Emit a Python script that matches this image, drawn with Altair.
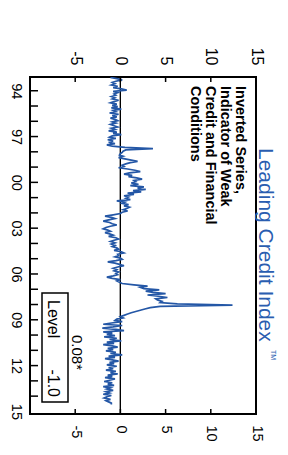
import altair as alt
import pandas as pd

# ---- data: monthly values (inverted index) ----
v1993 = [-1.1, -0.4, 0.2, -0.5, -0.9, -0.6, -1.0, -0.3, -0.8, 0.1, 0.7]  # Feb-Dec
v1994 = [-0.8, -0.3, -0.7, -0.5, -1.0, -0.6, -0.9, -0.2, -0.7, -1.1, -0.4, -0.9]
v1995 = [-0.3, -1.0, 0.1, -0.8, -0.5, -1.2, -0.2, -0.9, -0.4, -1.1, -0.6, -0.3]
v1996 = [-0.9, -0.5, -1.1, -0.7, -0.3, -1.0, -0.6, -1.3, -0.4, -0.8, 0.1, -0.9]
v1997 = [-1.2, -0.5, -1.4, -0.8, -1.3, -0.6, -1.5, -0.9, 0.5, 3.6, 0.6, 0.3]
v1998 = [0.2, 0.0, -0.1, 0.3, -0.2, 0.5, 1.2, 1.9, 1.1, 0.6, 0.2, 0.4]
v1999 = [-0.2, 0.8, 1.6, 2.2, 1.0, 0.4, 1.3, 0.9, 1.8, 2.4, 1.5, 1.7]
v2000 = [1.2, 2.0, 1.1, 2.6, 1.9, 2.8, 1.4, 2.3, 0.8, 1.5, 0.4, 0.9]
v2001 = [0.6, 1.1, -0.4, 0.5, 0.2, 0.9, 0.4, 1.0, 0.7, 0.3, 0.8, 0.2]
v2002 = [0.0, -0.8, -1.7, -1.0, -0.6, -1.3, -1.9, -1.2, -0.9, -0.4, -1.1, -1.6]
v2003 = [-1.9, -1.4, -1.1, -1.7, -1.2, -0.8, -1.3, -0.5, -0.2, -0.7, -1.1, -0.6]
v2004 = [-1.0, -0.6, -0.9, -0.4, -0.2, -0.7, 0.1, 0.4, -0.3, -0.2, -0.6, 0.0]
v2005 = [0.2, -0.5, -1.4, -0.6, -0.1, 0.4, -0.3, -0.8, -0.4, -0.7, -0.2, -0.5]
v2006 = [-0.3, -0.8, -1.5, -0.9, 0.0, -0.4, -0.1, 0.2, 1.5, 3.0, 2.2, 2.6]
v2007 = [4.3, 2.8, 3.6, 5.0, 3.0, 4.2, 5.2, 3.9, 4.1, 4.6, 4.4, 6.3]
v2008 = [12.4, 4.4, 3.3, 2.7, 2.2, 1.7, 1.2, 0.8, 0.4, 0.0, 0.3, -0.4]
v2009 = [-0.6, 0.2, -1.0, -1.9, 0.2, -0.8, -2.0, -0.5, 0.4, -1.9, -0.9, -1.5]
v2010 = [-0.6, -1.8, -0.4, -1.2, 0.1, -1.5, -0.7, -1.9, -0.9, -0.3, -1.4, -0.8]
v2011 = [-1.6, -0.5, -1.1, 0.2, -1.3, -0.6, -1.7, -0.9, -0.2, -1.2, -0.7, -1.5]
v2012 = [-0.4, -1.3, -0.8, -1.6, -0.5, -1.1, -0.3, -1.4, -0.9, -1.7, -0.6, -1.2]
v2013 = [-1.8, -0.9, -1.4, -0.7, -1.9, -1.1, -1.5, -0.8, -1.6, -1.2, -1.9, -1.0]
v2014 = [-1.5, -1.8, -1.1, -1.6, -1.3, -1.0, -1.0]  # Jan-Jul

year_ticks = list(range(1994, 2015))
year_labels = [1994, 1997, 2000, 2003, 2006, 2009, 2012, 2015]
value_labels = [-5, 0, 5, 10, 15]
value_ticks = [-5, 0, 5, 10]

title_text = "Leading Credit Index"
note_lines = ["Inverted Series,", "Indicator of Weak", "Credit and Financial", "Conditions"]
level_label = "Level"
level_value = "-1.0"
change_value = "0.08*"

# ---- build table ----
blocks = [(1993, v1993, 2), (1994, v1994, 1), (1995, v1995, 1), (1996, v1996, 1),
          (1997, v1997, 1), (1998, v1998, 1), (1999, v1999, 1), (2000, v2000, 1),
          (2001, v2001, 1), (2002, v2002, 1), (2003, v2003, 1), (2004, v2004, 1),
          (2005, v2005, 1), (2006, v2006, 1), (2007, v2007, 1), (2008, v2008, 1),
          (2009, v2009, 1), (2010, v2010, 1), (2011, v2011, 1), (2012, v2012, 1),
          (2013, v2013, 1), (2014, v2014, 1)]
rows = []
for yr, vals, m0 in blocks:
    for i, v in enumerate(vals):
        rows.append({"t": yr + (m0 + i - 0.5) / 12.0, "v": v})
df = pd.DataFrame(rows)
df_yt = pd.DataFrame({"t": year_ticks})
df_xt = pd.DataFrame({"v": value_ticks})
one = df_xt.head(1)

FONT = "Liberation Sans"
W, H = 226, 337
xs = alt.Scale(domain=[-10, 15], nice=False, zero=False)
ys = alt.Scale(domain=[1993.1, 2015.17], nice=False, zero=False, reverse=True)
BLUE = "#2457a6"
TBLUE = "#2a5db0"

line = alt.Chart(df).mark_line(color=BLUE, strokeWidth=1.7, clip=True).encode(
    x=alt.X("v:Q", scale=xs, axis=None),
    y=alt.Y("t:Q", scale=ys, axis=alt.Axis(
        orient="left", values=year_labels,
        labelExpr="substring('' + datum.value, 2, 4)",
        labelAngle=90, labelAlign="center", labelBaseline="top",
        labelPadding=8, ticks=False, tickSize=0, domain=False, grid=False,
        title=None, labelFont=FONT, labelFontSize=14.5, labelColor="black")),
    order="t:Q",
)

zero = alt.Chart(df_xt).mark_rule(color="black", strokeWidth=1).encode(
    x=alt.datum(0, scale=xs, axis=None))

top_ticks = alt.Chart(df_xt).mark_rule(color="black", strokeWidth=1.5).encode(
    x=alt.X("v:Q", scale=xs, axis=alt.Axis(
        orient="top", values=value_labels, labelExpr="'' + datum.value",
        labelAngle=90, labelAlign="right", labelBaseline="middle",
        labelPadding=12, ticks=False, tickSize=0, domain=False, grid=False,
        title=None, labelFont=FONT, labelFontSize=16, labelColor="black")),
    y=alt.value(0), y2=alt.value(5))

bot_ticks = alt.Chart(df_xt).mark_rule(color="black", strokeWidth=1.5).encode(
    x=alt.X("v:Q", scale=xs, axis=alt.Axis(
        orient="bottom", values=value_labels, labelExpr="'' + datum.value",
        labelAngle=90, labelAlign="left", labelBaseline="middle",
        labelPadding=11, ticks=False, tickSize=0, domain=False, grid=False,
        title=None, labelFont=FONT, labelFontSize=14.5, labelColor="black")),
    y=alt.value(H - 5), y2=alt.value(H))

year_tk = alt.Chart(df_yt).mark_rule(color="black", strokeWidth=1.5).encode(
    y=alt.Y("t:Q", scale=ys, axis=None),
    x=alt.value(0), x2=alt.value(8))

title = alt.Chart(one).mark_text(
    text=title_text, angle=90, align="left", baseline="alphabetic",
    font=FONT, fontSize=21, color=TBLUE).encode(
    x=alt.value(229), y=alt.value(71))

tm = alt.Chart(one).mark_text(
    text="TM", angle=90, align="left", baseline="alphabetic",
    font=FONT, fontSize=7, color=TBLUE).encode(
    x=alt.value(241), y=alt.value(273))

note = alt.Chart(one).mark_text(
    text=note_lines, angle=90, align="left", baseline="top", lineHeight=15,
    font=FONT, fontSize=14.5, fontWeight="bold", color="black").encode(
    x=alt.value(217), y=alt.value(9))

box = alt.Chart(one).mark_rect(
    fill="white", stroke="black", strokeWidth=1.5).encode(
    x=alt.value(12), x2=alt.value(38), y=alt.value(216), y2=alt.value(325))

lvl = alt.Chart(one).mark_text(
    text=level_label, angle=90, align="left", baseline="alphabetic",
    font=FONT, fontSize=16, color="black").encode(
    x=alt.value(18), y=alt.value(223))

lvlv = alt.Chart(one).mark_text(
    text=level_value, angle=90, align="right", baseline="alphabetic",
    font=FONT, fontSize=16, color="black").encode(
    x=alt.value(18), y=alt.value(320))

chg = alt.Chart(one).mark_text(
    text=change_value, angle=90, align="left", baseline="alphabetic",
    font=FONT, fontSize=15, color="black").encode(
    x=alt.value(42), y=alt.value(258))

chart = alt.layer(zero, line, top_ticks, bot_ticks, year_tk, box, lvl, lvlv, chg,
                  note, title, tm).resolve_axis(x="independent", y="independent").properties(
    width=W, height=H,
    padding={"left": 22, "top": 69, "right": 24, "bottom": 29},
    autosize=alt.AutoSizeParams(type="none"),
).configure_view(stroke="black", strokeWidth=2)

chart.save("out.html", embed_options={"renderer": "svg", "actions": False})
